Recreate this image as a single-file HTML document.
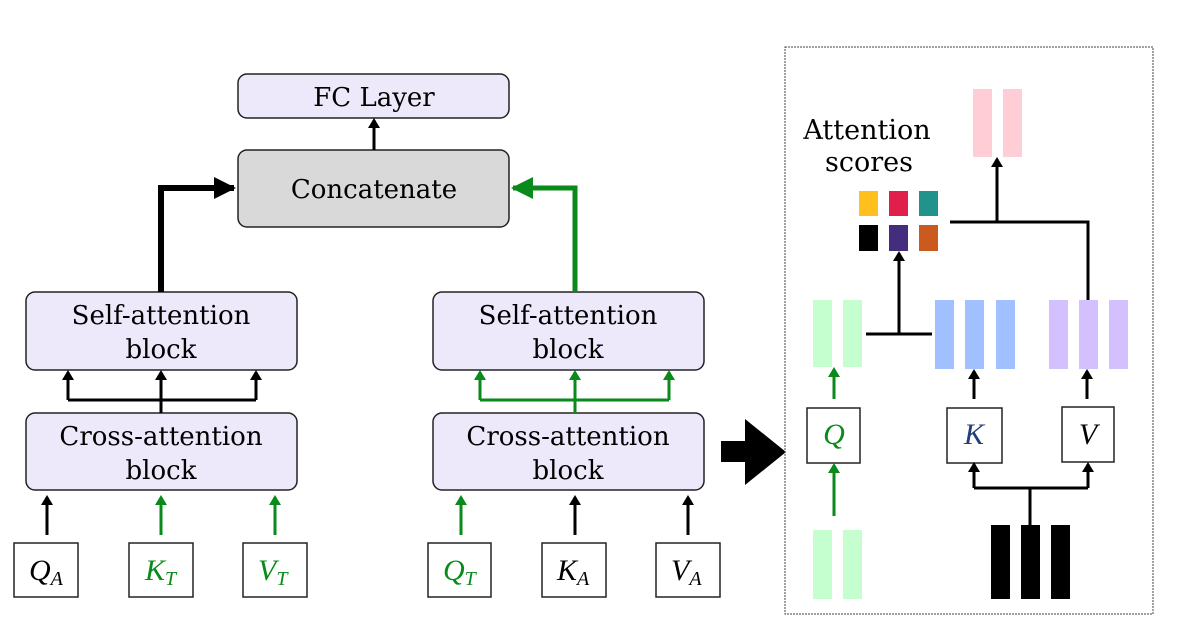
<!DOCTYPE html>
<html><head><meta charset="utf-8"><style>
html,body{margin:0;padding:0;background:#fff;width:1196px;height:627px;overflow:hidden}
text{font-family:"DejaVu Serif","Liberation Serif",serif}
.i{font-family:"Liberation Serif",serif;font-style:italic}
</style></head><body>
<svg width="1196" height="627" viewBox="0 0 1196 627" xmlns="http://www.w3.org/2000/svg">
<defs>
<marker id="ab" markerWidth="10" markerHeight="12" refX="8" refY="6" orient="auto" markerUnits="userSpaceOnUse"><path d="M0,0 L10,6 L0,12 z" fill="#000"/></marker>
<marker id="ag" markerWidth="10" markerHeight="12" refX="8" refY="6" orient="auto" markerUnits="userSpaceOnUse"><path d="M0,0 L10,6 L0,12 z" fill="#0a8a1a"/></marker>
<marker id="abL" markerWidth="22" markerHeight="22" refX="20" refY="11" orient="auto" markerUnits="userSpaceOnUse"><path d="M0,0 L22,11 L0,22 z" fill="#000"/></marker>
<marker id="agL" markerWidth="22" markerHeight="22" refX="20" refY="11" orient="auto" markerUnits="userSpaceOnUse"><path d="M0,0 L22,11 L0,22 z" fill="#0a8a1a"/></marker>
</defs>
<g stroke="#222" stroke-width="1.5">
<rect x="238" y="74" width="271" height="44" rx="9" fill="#EEE8FB"/>
<rect x="238" y="150" width="271" height="77" rx="9" fill="#D9D9D9"/>
<rect x="26" y="292" width="271" height="78" rx="9" fill="#EEE8FB"/>
<rect x="26" y="413" width="271" height="77" rx="9" fill="#EEE8FB"/>
<rect x="433" y="292" width="271" height="78" rx="9" fill="#EEE8FB"/>
<rect x="433" y="413" width="271" height="77" rx="9" fill="#EEE8FB"/>
<g fill="#fff">
<rect x="14" y="543" width="64" height="54"/><rect x="129" y="543" width="64" height="54"/><rect x="243" y="543" width="64" height="54"/>
<rect x="428" y="543" width="63" height="54"/><rect x="542" y="543" width="64" height="54"/><rect x="656" y="543" width="64" height="54"/>
</g></g>
<g font-size="26" text-anchor="middle" fill="#000">
<text x="374" y="106">FC Layer</text>
<text x="374" y="198">Concatenate</text>
<text x="161" y="324">Self-attention</text><text x="161" y="358">block</text>
<text x="161" y="445">Cross-attention</text><text x="161" y="479">block</text>
<text x="568" y="324">Self-attention</text><text x="568" y="358">block</text>
<text x="568" y="445">Cross-attention</text><text x="568" y="479">block</text>
</g>
<g font-size="30" class="i">
<text x="29" y="580" class="i">Q<tspan font-size="20" dy="5">A</tspan></text>
<text x="145" y="580" class="i" fill="#0a8a1a">K<tspan font-size="20" dy="5">T</tspan></text>
<text x="258" y="580" class="i" fill="#0a8a1a">V<tspan font-size="20" dy="5">T</tspan></text>
<text x="443" y="580" class="i" fill="#0a8a1a">Q<tspan font-size="20" dy="5">T</tspan></text>
<text x="557" y="580" class="i">K<tspan font-size="20" dy="5">A</tspan></text>
<text x="671" y="580" class="i">V<tspan font-size="20" dy="5">A</tspan></text>
</g>
<g stroke-width="3" fill="none">
<line x1="374" y1="150" x2="374" y2="120" stroke="#000" marker-end="url(#ab)"/>
<line x1="47" y1="535" x2="47" y2="497" stroke="#000" marker-end="url(#ab)"/>
<line x1="161" y1="535" x2="161" y2="497" stroke="#0a8a1a" marker-end="url(#ag)"/>
<line x1="275" y1="535" x2="275" y2="497" stroke="#0a8a1a" marker-end="url(#ag)"/>
<line x1="461" y1="535" x2="461" y2="497" stroke="#0a8a1a" marker-end="url(#ag)"/>
<line x1="575" y1="535" x2="575" y2="497" stroke="#000" marker-end="url(#ab)"/>
<line x1="688" y1="535" x2="688" y2="497" stroke="#000" marker-end="url(#ab)"/>
<g stroke="#000"><path d="M161,413 V400 M68,400 H256"/>
<line x1="68" y1="400" x2="68" y2="372" marker-end="url(#ab)"/><line x1="161" y1="400" x2="161" y2="372" marker-end="url(#ab)"/><line x1="256" y1="400" x2="256" y2="372" marker-end="url(#ab)"/></g>
<g stroke="#0a8a1a"><path d="M575,413 V400 M480,400 H669"/>
<line x1="480" y1="400" x2="480" y2="372" marker-end="url(#ag)"/><line x1="575" y1="400" x2="575" y2="372" marker-end="url(#ag)"/><line x1="669" y1="400" x2="669" y2="372" marker-end="url(#ag)"/></g>
<path d="M161,292 V188 H234" stroke="#000" stroke-width="6" marker-end="url(#abL)"/>
<path d="M575,292 V188 H513" stroke="#0a8a1a" stroke-width="5" marker-end="url(#agL)"/>
</g>
<path d="M721,441 H745 V419 L786,452 L745,485 V462 H721 Z" fill="#000"/>
<rect x="785" y="47" width="368" height="567" fill="none" stroke="#444" stroke-width="1" stroke-dasharray="2,1"/>
<text x="867" y="139" font-size="27" text-anchor="middle">Attention</text>
<text x="869" y="171" font-size="27" text-anchor="middle">scores</text>
<g fill="#FFCDD6"><rect x="973" y="89" width="19" height="68"/><rect x="1003" y="89" width="19" height="68"/></g>
<rect x="859" y="191" width="19" height="25" fill="#FFC01E"/><rect x="889" y="191" width="19" height="25" fill="#E0204A"/><rect x="919" y="191" width="19" height="25" fill="#22928C"/>
<rect x="859" y="225" width="19" height="26" fill="#000"/><rect x="889" y="225" width="19" height="26" fill="#452D7E"/><rect x="919" y="225" width="19" height="26" fill="#CB5A1F"/>
<g fill="#C6FFCF"><rect x="813" y="300" width="19" height="67"/><rect x="843" y="300" width="19" height="67"/><rect x="813" y="530" width="19" height="69"/><rect x="843" y="530" width="19" height="69"/></g>
<g fill="#A0C0FF"><rect x="935" y="300" width="19" height="69"/><rect x="965" y="300" width="19" height="69"/><rect x="996" y="300" width="19" height="69"/></g>
<g fill="#D2C0FF"><rect x="1049" y="300" width="19" height="69"/><rect x="1079" y="300" width="19" height="69"/><rect x="1109" y="300" width="19" height="69"/></g>
<g fill="#000"><rect x="991" y="525" width="19" height="74"/><rect x="1021" y="525" width="19" height="74"/><rect x="1051" y="525" width="19" height="74"/></g>
<g stroke="#222" stroke-width="1.5" fill="#fff"><rect x="807" y="408" width="53" height="55"/><rect x="947" y="408" width="55" height="55"/><rect x="1062" y="407" width="52" height="55"/></g>
<text x="834" y="444" font-size="30" text-anchor="middle" class="i" fill="#0a8a1a">Q</text>
<text x="974" y="444" font-size="30" text-anchor="middle" class="i" fill="#1f3f7a">K</text>
<text x="1088" y="444" font-size="30" text-anchor="middle" class="i">V</text>
<g stroke-width="3" fill="none" stroke="#000">
<path d="M950,222 H1088 V300"/>
<line x1="997" y1="222" x2="997" y2="159" marker-end="url(#ab)"/>
<path d="M866,334 H932"/>
<line x1="899" y1="334" x2="899" y2="253" marker-end="url(#ab)"/>
<line x1="974" y1="399" x2="974" y2="371" marker-end="url(#ab)"/>
<line x1="1087" y1="399" x2="1087" y2="371" marker-end="url(#ab)"/>
<path d="M1030,525 V488 M974,488 H1088"/>
<line x1="974" y1="488" x2="974" y2="464" marker-end="url(#ab)"/>
<line x1="1088" y1="488" x2="1088" y2="464" marker-end="url(#ab)"/>
<line x1="834" y1="399" x2="834" y2="369" stroke="#0a8a1a" marker-end="url(#ag)"/>
<line x1="834" y1="516" x2="834" y2="465" stroke="#0a8a1a" marker-end="url(#ag)"/>
</g>
</svg>
</body></html>
